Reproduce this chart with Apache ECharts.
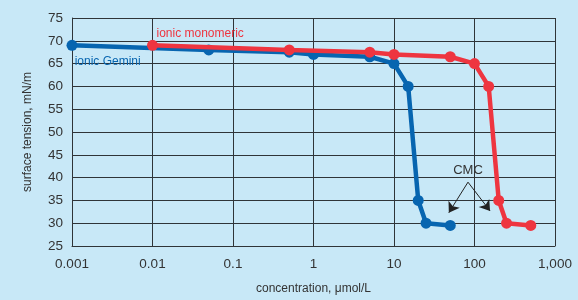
<!DOCTYPE html>
<html>
<head>
<meta charset="utf-8">
<script src="https://cdn.jsdelivr.net/npm/echarts@6/dist/echarts.min.js"></script>
<style>
html,body{margin:0;padding:0;background:#c8e8f7;}
#c{width:578px;height:300px;}
</style>
</head>
<body>
<div id="c"></div>
<script>
const geminiX = [0.001, 0.05, 0.5, 1, 5, 10, 15, 20, 25, 50];
const geminiY = [69, 68, 67.5, 67, 66.5, 65, 60, 35, 30, 29.5];
const monoX = [0.01, 0.5, 5, 10, 50, 100, 150, 200, 250, 500];
const monoY = [69, 68, 67.5, 67, 66.5, 65, 60, 35, 30, 29.5];
const xTickLabels = {'0.001':'0.001','0.01':'0.01','0.1':'0.1','1':'1','10':'10','100':'100','1000':'1,000'};
const yTicks = [25, 30, 35, 40, 45, 50, 55, 60, 65, 70, 75];
const cmcFrom = [83, 39];
const cmcTo = [[48, 32.3], [156, 32.7]];

const BLUE = '#0765b0';
const RED = '#ee3540';
const GRID = '#2f3438';
const FONT = '"Liberation Sans", Arial, sans-serif';

const chart = echarts.init(document.getElementById('c'));
function pairs(xs, ys){ return xs.map((x,i)=>[x, ys[i]]); }
function fmtX(v){
  const k = String(Number(v.toPrecision(3)));
  return xTickLabels[k] !== undefined ? xTickLabels[k] : '';
}
chart.setOption({
  backgroundColor: '#c8e8f7',
  animation: false,
  grid: {left: 72, right: 23, top: 18, bottom: 49, show: false},
  xAxis: {
    type: 'log', logBase: 10, min: 0.001, max: 1000,
    name: 'concentration, μmol/L', nameLocation: 'middle', nameGap: 37,
    nameTextStyle: {fontFamily: FONT, fontSize: 12, color: '#333'},
    axisLine: {show: true, lineStyle: {color: GRID, width: 1}},
    axisTick: {show: false},
    minorTick: {show: false},
    axisLabel: {formatter: fmtX, fontFamily: FONT, fontSize: 13.5, color: '#333', margin: 11, showMinLabel: true, showMaxLabel: true},
    splitLine: {show: true, lineStyle: {color: GRID, width: 1}}
  },
  yAxis: {
    type: 'value', min: yTicks[0], max: yTicks[yTicks.length-1], interval: 5,
    name: 'surface tension, mN/m', nameLocation: 'middle', nameGap: 38,
    nameTextStyle: {fontFamily: FONT, fontSize: 12, color: '#333'},
    axisLine: {show: true, lineStyle: {color: GRID, width: 1}},
    axisTick: {show: false},
    axisLabel: {fontFamily: FONT, fontSize: 13.5, color: '#333', margin: 9},
    splitLine: {show: true, lineStyle: {color: GRID, width: 1}}
  },
  series: [
    {
      type: 'line', name: 'ionic Gemini', data: pairs(geminiX, geminiY),
      lineStyle: {color: BLUE, width: 4.5}, itemStyle: {color: BLUE},
      symbol: 'circle', symbolSize: 11, z: 3
    },
    {
      type: 'line', name: 'ionic monomeric', data: pairs(monoX, monoY),
      lineStyle: {color: RED, width: 4.5}, itemStyle: {color: RED},
      symbol: 'circle', symbolSize: 11, z: 4,
      markLine: {
        silent: true, symbol: ['none', 'arrow'], symbolSize: 10,
        lineStyle: {color: '#222', width: 1, type: 'solid'},
        itemStyle: {color: '#111'},
        label: {show: false},
        emphasis: {disabled: true},
        data: cmcTo.map(t => [{coord: cmcFrom}, {coord: t}])
      }
    }
  ]
});

function addLabels(){
  const pMono = chart.convertToPixel({gridIndex: 0}, [0.0112, 71.6]);
  const pGem = chart.convertToPixel({gridIndex: 0}, [0.00108, 65.4]);
  const pCmc = chart.convertToPixel({gridIndex: 0}, [83, 41.5]);
  chart.setOption({
    graphic: [
      {type: 'text', x: pMono[0], y: pMono[1], style: {text: 'ionic monomeric', fill: RED, font: '12px ' + FONT, textVerticalAlign: 'middle'}},
      {type: 'text', x: pGem[0], y: pGem[1], style: {text: 'ionic Gemini', fill: BLUE, font: '12px ' + FONT, textVerticalAlign: 'middle'}},
      {type: 'text', x: pCmc[0], y: pCmc[1], style: {text: 'CMC', fill: '#333', font: '13px ' + FONT, textAlign: 'center', textVerticalAlign: 'middle'}}
    ]
  });
}
addLabels();
</script>
</body>
</html>
